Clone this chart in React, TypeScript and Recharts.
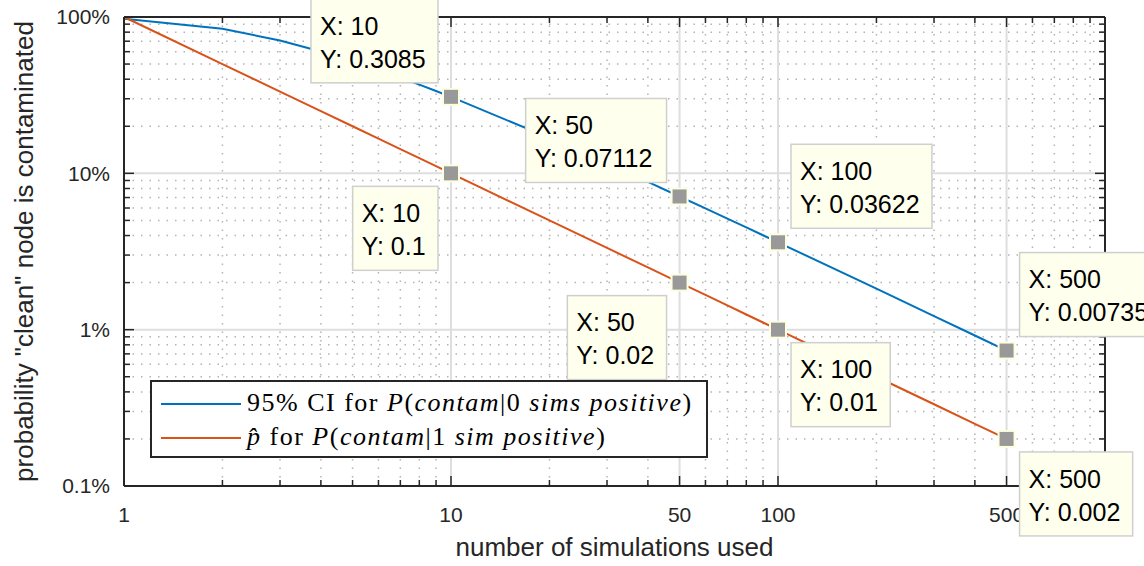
import { ComposedChart, Line, Scatter, XAxis, YAxis, CartesianGrid, Legend } from "recharts";

// number of simulations (x) and the two probability curves
const sims = [1, 2, 3, 4, 5, 6, 7, 8, 9, 10, 20, 30, 40, 50, 60, 70, 80, 90, 100, 200, 300, 400, 500];
const ciZeroPositive = [
  0.975, 0.8419, 0.7076, 0.6024, 0.5218, 0.4593, 0.4096, 0.3694, 0.3363, 0.3085,
  0.1684, 0.1157, 0.0881, 0.07112, 0.05963, 0.05133, 0.04506, 0.04016, 0.03622,
  0.01828, 0.01222, 0.00918, 0.007351,
];
const pHatOnePositive = [
  1, 0.5, 0.3333, 0.25, 0.2, 0.1667, 0.1429, 0.125, 0.1111, 0.1,
  0.05, 0.03333, 0.025, 0.02, 0.01667, 0.01429, 0.0125, 0.01111, 0.01,
  0.005, 0.003333, 0.0025, 0.002,
];
const tipSims = [10, 50, 100, 500];

const xMajorTicks = [1, 10, 50, 100, 500];
const xMinorTicks = [2, 3, 4, 5, 6, 7, 8, 9, 20, 30, 40, 60, 70, 80, 90, 200, 300, 400, 600, 700, 800, 900];
const yMajorTicks = [0.001, 0.01, 0.1, 1];
const yTickLabels = ["0.1%", "1%", "10%", "100%"];
const yMinorTicks = [
  0.002, 0.003, 0.004, 0.005, 0.006, 0.007, 0.008, 0.009,
  0.02, 0.03, 0.04, 0.05, 0.06, 0.07, 0.08, 0.09,
  0.2, 0.3, 0.4, 0.5, 0.6, 0.7, 0.8, 0.9,
];

// which side of the marker each data tip box sits on
const blueTipSides = ["ul", "ul", "ur", "ur"];
const redTipSides = ["dl", "dl", "dr", "dr"];

const rows = sims.map((n, i) => ({ n, ci: ciZeroPositive[i], phat: pHatOnePositive[i] }));
const blueTips = tipSims.map((n) => ({ n, y: ciZeroPositive[sims.indexOf(n)] }));
const redTips = tipSims.map((n) => ({ n, y: pHatOnePositive[sims.indexOf(n)] }));

const BLUE = "#0072BD";
const RED = "#D95319";
const INK = "#262626";
const SANS = "'Liberation Sans', Arial, Helvetica, sans-serif";
const allX = [...xMajorTicks, ...xMinorTicks].sort((a, b) => a - b);
const allY = [...yMajorTicks, ...yMinorTicks].sort((a, b) => a - b);

const charW: Record<string, number> = { X: 0.667, Y: 0.667, ":": 0.278, " ": 0.278, ".": 0.278 };
const textW = (s: string) => s.split("").reduce((a, c) => a + (charW[c] ?? 0.556), 0) * 25;

const makeTip = (sides: string[]) => (props: any) => {
  const { cx, cy, payload } = props;
  const side = sides[tipSims.indexOf(payload.n)] || "ur";
  const xs = `X: ${payload.n}`;
  const ys = `Y: ${Number(payload.y.toPrecision(4))}`;
  const w = Math.max(textW(xs), textW(ys)) + 20;
  const h = 84;
  const bx = side[1] === "l" ? cx - 13 - w : cx + 13;
  const by = side[0] === "u" ? cy - 14 - h : cy + 13;
  return (
    <g>
      <rect x={cx - 8} y={cy - 8} width={16} height={16} fill="#999999" stroke="#fdfde0" strokeWidth={2} />
      <rect x={bx} y={by} width={w} height={h} fill="#ffffee" stroke="#cfcfcf" strokeWidth={1.5} />
      <text x={bx + 9} y={by + 27} dy="0.35em" fontSize={25} fontFamily={SANS} fill="#000">{xs}</text>
      <text x={bx + 9} y={by + 60} dy="0.35em" fontSize={25} fontFamily={SANS} fill="#000">{ys}</text>
    </g>
  );
};

const bottomTick = (p: any) => {
  const v = p.payload.value;
  const major = xMajorTicks.includes(v);
  return (
    <g>
      <line x1={p.x} x2={p.x} y1={p.y} y2={p.y - (major ? 10 : 6)} stroke={INK} strokeWidth={1.5} />
      {major && (
        <text x={p.x} y={p.y + 36} textAnchor="middle" fontSize={21} fontFamily={SANS} fill={INK}>{v}</text>
      )}
    </g>
  );
};

const topTick = (p: any) => {
  const major = xMajorTicks.includes(p.payload.value);
  return <line x1={p.x} x2={p.x} y1={p.y} y2={p.y + (major ? 10 : 6)} stroke={INK} strokeWidth={1.5} />;
};

const leftTick = (p: any) => {
  const v = p.payload.value;
  const i = yMajorTicks.indexOf(v);
  return (
    <g>
      <line x1={p.x} x2={p.x + (i >= 0 ? 10 : 6)} y1={p.y} y2={p.y} stroke={INK} strokeWidth={1.5} />
      {i >= 0 && (
        <text x={p.x - 14} y={p.y} dy="0.35em" textAnchor="end" fontSize={21} fontFamily={SANS} fill={INK}>
          {yTickLabels[i]}
        </text>
      )}
    </g>
  );
};

const rightTick = (p: any) => {
  const major = yMajorTicks.includes(p.payload.value);
  return <line x1={p.x} x2={p.x - (major ? 10 : 6)} y1={p.y} y2={p.y} stroke={INK} strokeWidth={1.5} />;
};

const legendText = {
  position: "absolute" as const,
  left: 95,
  whiteSpace: "nowrap" as const,
  lineHeight: "30px",
  letterSpacing: 1.5,
};

const LegendBox = () => (
  <div
    style={{
      position: "relative",
      width: 554,
      height: 74,
      border: `2px solid ${INK}`,
      background: "#fff",
      fontFamily: "'Liberation Serif', 'Times New Roman', serif",
      fontSize: 26,
      color: "#000",
    }}
  >
    <div style={{ position: "absolute", left: 9, top: 21, width: 80, height: 2, background: BLUE }} />
    <div style={{ ...legendText, top: 6 }}>
      95% CI for <i>P</i>(<i>contam</i>|0 <i>sims positive</i>)
    </div>
    <div style={{ position: "absolute", left: 9, top: 55, width: 80, height: 2, background: RED }} />
    <div style={{ ...legendText, top: 40 }}>
      <i>p&#770;</i> for <i>P</i>(<i>contam</i>|1 <i>sim positive</i>)
    </div>
  </div>
);

const logAxis = { type: "number" as const, scale: "log" as const };

export default function App() {
  return (
    <div style={{ position: "absolute", left: 0, top: 0, width: 1144, height: 566, background: "#fff", fontFamily: SANS }}>
      <ComposedChart width={1144} height={566} data={rows} margin={{ top: 0, right: 0, bottom: 0, left: 0 }}>
        <CartesianGrid
          horizontalValues={yMinorTicks}
          verticalValues={xMinorTicks}
          stroke="#b3b3b3"
          strokeWidth={1.5}
          strokeDasharray="1.5 7"
        />
        <CartesianGrid
          horizontalValues={[0.01, 0.1]}
          verticalValues={[10, 50, 100, 500]}
          stroke="#dedede"
          strokeWidth={2}
        />
        <XAxis
          {...logAxis}
          dataKey="n"
          domain={[1, 1000]}
          ticks={allX}
          interval={0}
          height={80}
          tickSize={0}
          tickMargin={0}
          tick={bottomTick}
          axisLine={{ stroke: INK, strokeWidth: 2 }}
          label={{ value: "number of simulations used", position: "insideBottom", offset: 10, fontSize: 26, fill: INK }}
        />
        <XAxis
          {...logAxis}
          xAxisId="top"
          orientation="top"
          dataKey="n"
          domain={[1, 1000]}
          ticks={allX}
          interval={0}
          height={17}
          tickSize={0}
          tickMargin={0}
          tick={topTick}
          axisLine={{ stroke: INK, strokeWidth: 2 }}
        />
        <YAxis
          {...logAxis}
          domain={[0.001, 1]}
          ticks={allY}
          interval={0}
          width={124}
          tickSize={0}
          tickMargin={0}
          tick={leftTick}
          axisLine={{ stroke: INK, strokeWidth: 2 }}
          label={{
            value: 'probability "clean" node is contaminated',
            angle: -90,
            position: "insideLeft",
            offset: 24,
            fontSize: 26,
            fill: INK,
            style: { textAnchor: "middle" },
          }}
        />
        <YAxis
          {...logAxis}
          yAxisId="right"
          orientation="right"
          domain={[0.001, 1]}
          ticks={allY}
          interval={0}
          width={39}
          tickSize={0}
          tickMargin={0}
          tick={rightTick}
          axisLine={{ stroke: INK, strokeWidth: 2 }}
        />
        {/* invisible series so the top and right box axes get drawn */}
        <Line
          xAxisId="top"
          yAxisId="right"
          dataKey="phat"
          stroke="none"
          dot={false}
          activeDot={false}
          isAnimationActive={false}
          legendType="none"
        />
        <Line dataKey="ci" stroke={BLUE} strokeWidth={2} dot={false} isAnimationActive={false} legendType="none" />
        <Line dataKey="phat" stroke={RED} strokeWidth={2} dot={false} isAnimationActive={false} legendType="none" />
        <Scatter
          data={blueTips}
          dataKey="y"
          shape={makeTip(blueTipSides)}
          isAnimationActive={false}
          legendType="none"
          zIndex={3000}
        />
        <Scatter
          data={redTips}
          dataKey="y"
          shape={makeTip(redTipSides)}
          isAnimationActive={false}
          legendType="none"
          zIndex={3000}
        />
        <Legend
          layout="vertical"
          align="center"
          verticalAlign="middle"
          content={LegendBox}
          wrapperStyle={{ left: 150, top: 380, right: "auto", bottom: "auto", width: 558, height: 78 }}
        />
      </ComposedChart>
    </div>
  );
}
